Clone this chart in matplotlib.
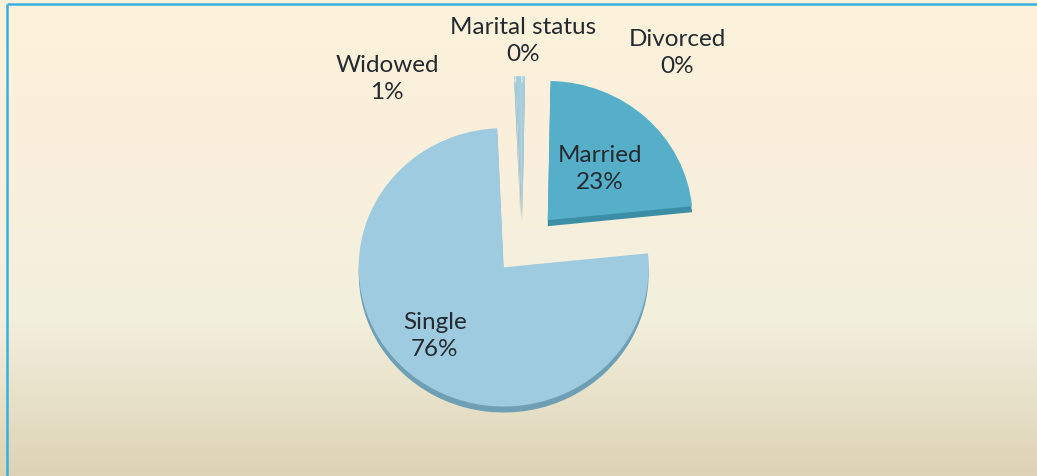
import numpy as np
import matplotlib.pyplot as plt
from matplotlib.colors import LinearSegmentedColormap

# data (percent of respondents), clockwise from 12 o'clock
categories = ["Marital status", "Married", "Single", "Divorced", "Widowed"]
shares = [0.3, 23.1, 75.9, 0.1, 0.6]

top_colors = ["#a8d0e2", "#55afc8", "#9ecbdf", "#a3cde0", "#a3cde0"]
side_colors = ["#8aa6b2", "#3b8ea6", "#6f9fb4", "#8aa6b2", "#8aa6b2"]
# explosion in pixels, every slice pulled away from the centre
explode_px = [33, 38, 28, 33, 33]

# label centres in pixels (x, y from top)
label_pos = {
    "Marital status": (523, 41),
    "Married": (600, 169),
    "Single": (435, 336),
    "Divorced": (677, 53),
    "Widowed": (387, 79),
}

W, H = 1037, 477
fig = plt.figure(figsize=(W / 100, H / 100), dpi=100)

# background gradient
bg = fig.add_axes([0, 0, 1, 1], zorder=0)
stops = [(0.0, "#fdf2da"), (0.3, "#faefdc"), (0.66, "#f3f0de"),
         (0.82, "#e9e3cc"), (1.0, "#ddd3b4")]
cmap = LinearSegmentedColormap.from_list("bg", stops)
grad = np.linspace(0, 1, 256).reshape(-1, 1)
bg.imshow(grad, aspect="auto", cmap=cmap, extent=[0, W, H, 0])
bg.set_xlim(0, W)
bg.set_ylim(H, 0)
bg.plot([7, W], [5, 5], color="#3aaee0", lw=1.8, solid_capstyle="butt")
bg.plot([7, 7], [5, H], color="#3aaee0", lw=1.8, solid_capstyle="butt")
bg.axis("off")

# pie axes: x in pixels, y slightly stretched so the pie looks tilted
tilt = 0.96
ax = fig.add_axes([0, 0, 1, 1], zorder=1)
ax.patch.set_alpha(0)
cx, cy, r = 522, (H - 248) / tilt, 145
depth = 6 / tilt

# side of the 3D pie
ax.pie(shares, explode=explode_px, colors=side_colors, startangle=90,
       counterclock=False, radius=r, center=(cx, cy - depth),
       wedgeprops=dict(linewidth=0))
# top face
ax.pie(shares, explode=explode_px, colors=top_colors, startangle=90,
       counterclock=False, radius=r, center=(cx, cy),
       wedgeprops=dict(linewidth=0))
ax.set_aspect("auto")
ax.set_xlim(0, W)
ax.set_ylim(0, H / tilt)
ax.axis("off")

for name, v in zip(categories, shares):
    x, y = label_pos[name]
    fig.text(x / W, 1 - y / H, f"{name}\n{round(v):.0f}%", ha="center",
             va="center", fontsize=17.5, family="Lato", color="#232a30",
             linespacing=1.3)

fig.savefig("out.png", dpi=100)
